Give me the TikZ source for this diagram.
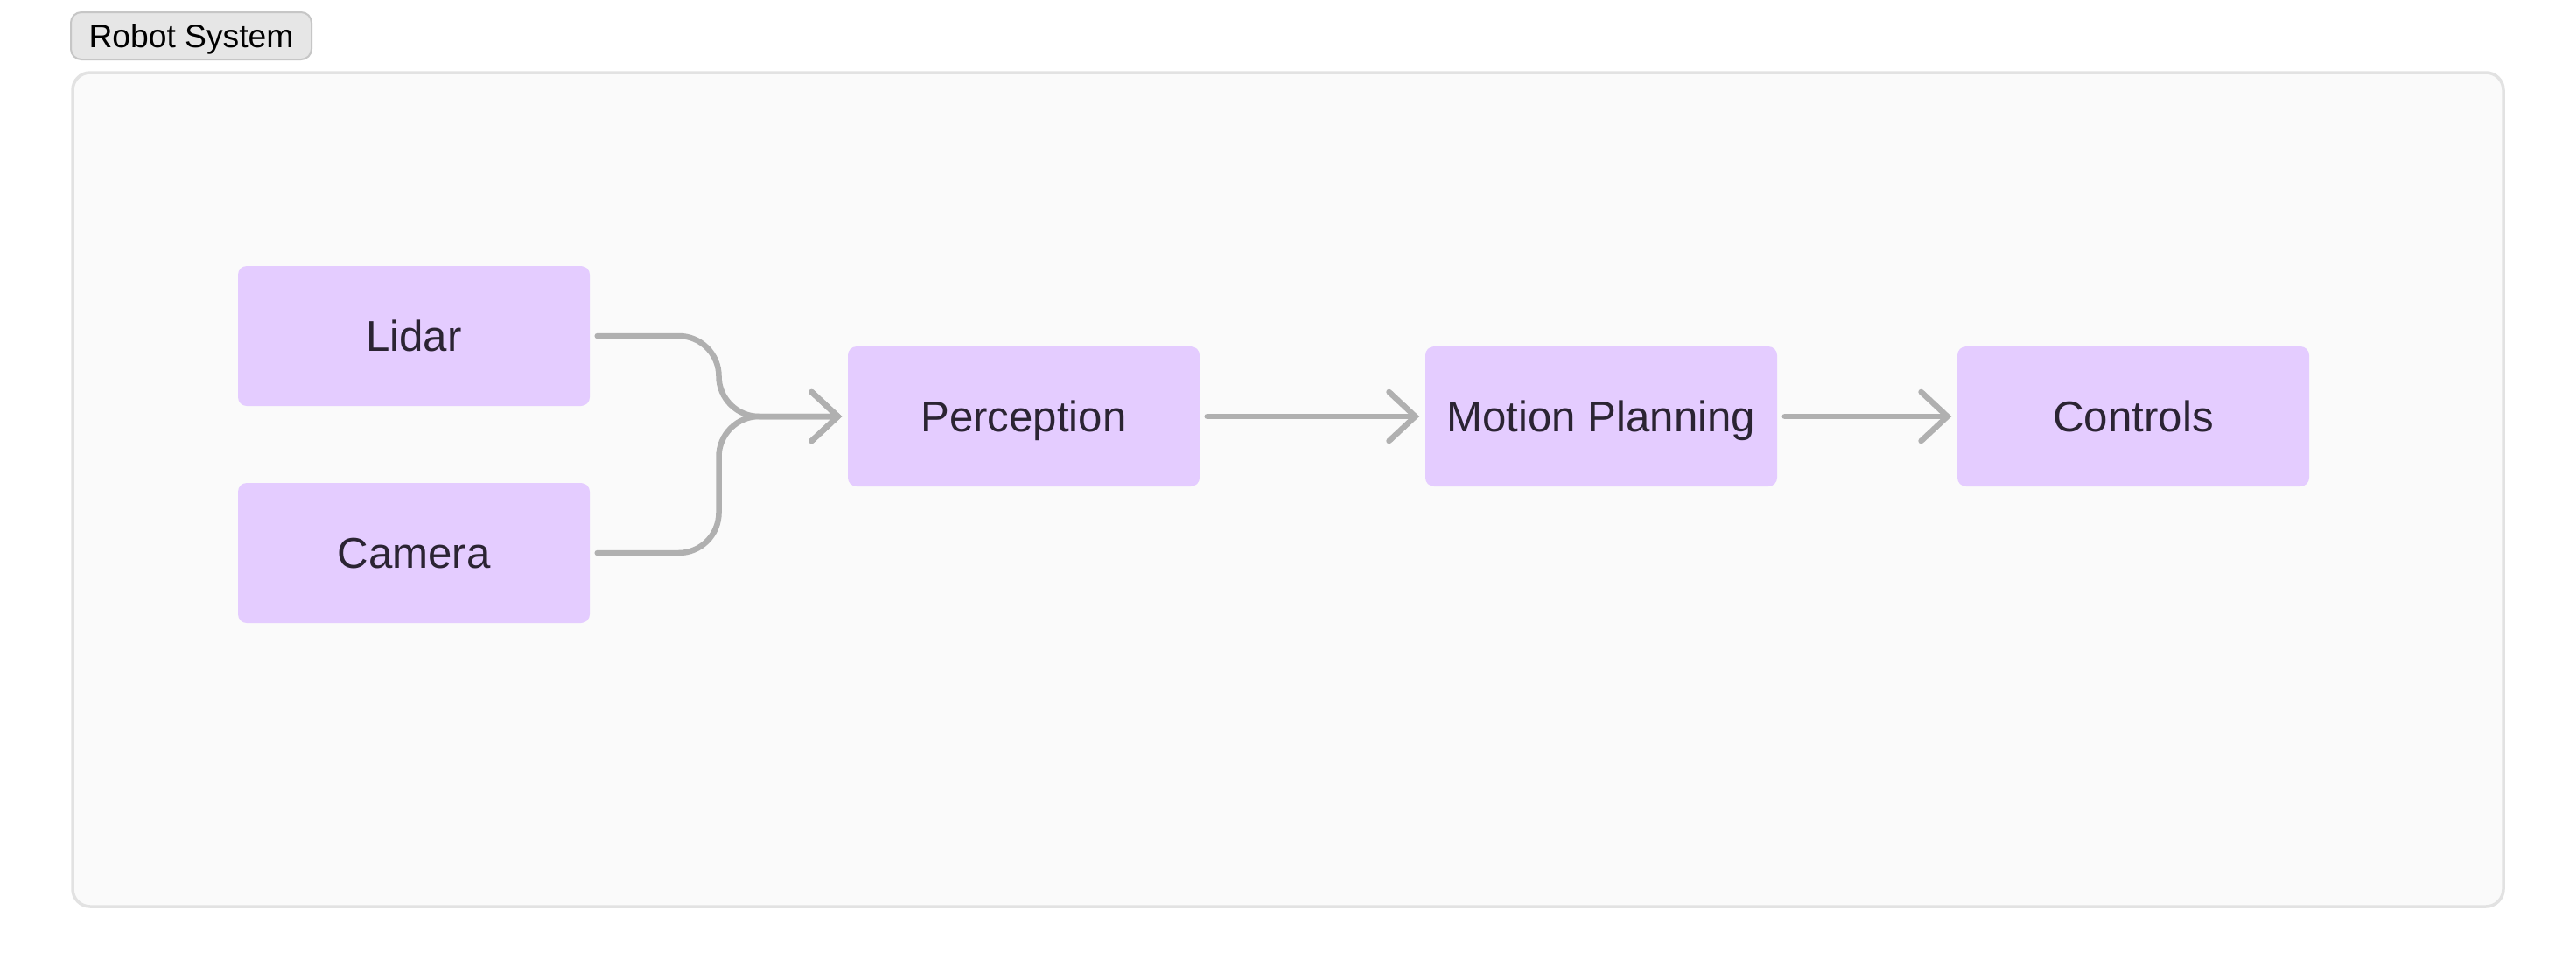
\documentclass[tikz,border=0pt]{standalone}
\usepackage{fontspec}
\setmainfont{Liberation Sans}
\usetikzlibrary{calc, arrows.meta}

\begin{document}
\begin{tikzpicture}[scale=1, transform shape]
    % Define colours
    \definecolor{frameFill}{HTML}{FAFAFA}
    \definecolor{frameBorder}{HTML}{E2E2E2}
    \definecolor{tabFill}{HTML}{E6E6E6}
    \definecolor{tabBorder}{HTML}{C6C6C6}
    \definecolor{boxFill}{HTML}{E4CCFF}
    \definecolor{textColour}{HTML}{2B2433}
    \definecolor{arrowColour}{HTML}{B0B0B0}

    % Define styles
    \tikzset{
        block/.style={fill=boxFill, text=textColour, rounded corners=0.1cm,
            minimum width=4.02cm, minimum height=1.6cm, inner sep=0pt,
            text height=10pt, text depth=0pt,
            font=\fontsize{14}{16}\selectfont},
        flow/.style={draw=arrowColour, line width=0.065cm, line cap=round,
            rounded corners=0.46cm, shorten <=0.08cm, shorten >=0.06cm,
            -{Straight Barb[length=0.3cm, width=0.56cm, line cap=round]}}
    }

    % Fix the page size
    \useasboundingbox (0,0) rectangle (29.44,-11.2);
    \fill[white] (0,0) rectangle (29.44,-11.2);

    % Draw the system frame and its tab
    \filldraw[fill=frameFill, draw=frameBorder, line width=0.035cm, rounded corners=0.2cm]
        (0.83,-0.83) rectangle (28.61,-10.36);
    \node[fill=tabFill, draw=tabBorder, line width=0.02cm, rounded corners=0.12cm,
        minimum width=2.75cm, minimum height=0.54cm, inner sep=0pt,
        text height=7.6pt, text depth=0pt,
        font=\fontsize{10.6}{12}\selectfont] (tab) at (2.185,-0.41) {Robot System};

    % Define coordinates for the blocks
    \coordinate (L) at (4.73,-3.84);
    \coordinate (C) at (4.73,-6.32);
    \coordinate (P) at (11.70,-4.76);
    \coordinate (M) at (18.30,-4.76);
    \coordinate (K) at (24.38,-4.76);

    % Draw the blocks
    \node[block] (lidar) at (L) {Lidar};
    \node[block] (camera) at (C) {Camera};
    \node[block] (perception) at (P) {Perception};
    \node[block] (planning) at (M) {Motion Planning};
    \node[block] (controls) at (K) {Controls};

    % Where the two sensor lines meet
    \coordinate (mid) at ($(lidar.east)!0.5!(perception.west)$);
    \coordinate (join) at (mid |- perception.west);

    % Draw the connectors
    \draw[flow] (lidar.east) -| (join) -- (perception.west);
    \draw[flow] (camera.east) -| (join) -- (perception.west);
    \draw[flow] (perception) -- (planning);
    \draw[flow] (planning) -- (controls);

\end{tikzpicture}
\end{document}
